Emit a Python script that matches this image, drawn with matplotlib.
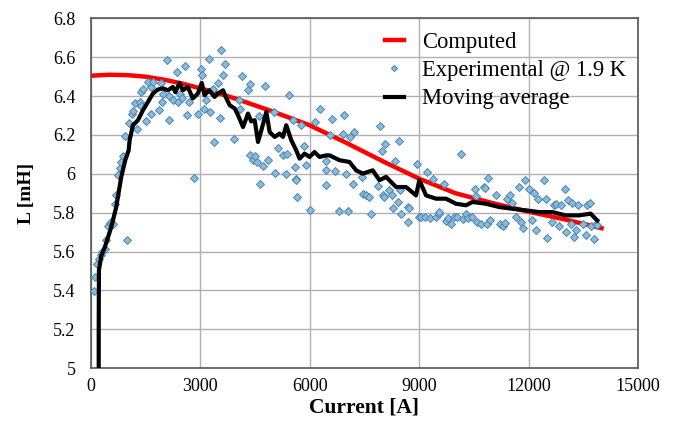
import numpy as np
import matplotlib
matplotlib.use("Agg")
import matplotlib.pyplot as plt
from matplotlib.ticker import FuncFormatter

plt.rcParams['font.family'] = ['Liberation Serif', 'DejaVu Serif']

# computed inductance curve
comp_current = [0, 500, 1000, 1500, 2000, 2500, 3000, 3500, 4000, 5000, 6000,
                7000, 8000, 9000, 10000, 11000, 12000, 13000, 14000]
comp_L = [6.505, 6.51, 6.508, 6.5, 6.485, 6.465, 6.44, 6.415, 6.385, 6.32, 6.25,
          6.16, 6.065, 5.975, 5.9, 5.85, 5.805, 5.765, 5.72]

# experimental points @ 1.9 K
exp_current = [90, 126, 181, 219, 270, 320, 383, 427, 473, 520, 560, 600, 656, 692, 747,
               790, 820, 875, 946, 1001, 1039, 1130, 1166, 1203, 1275, 1340, 1385, 1431,
               1390, 1521, 1568, 1641, 1658, 1704, 1860, 1915, 1960, 1986, 2087, 2133,
               2150, 2250, 2352, 2380, 2450, 2500, 2579, 2643, 2700, 2825, 2935, 3009,
               3063, 3099, 3170, 3245, 3282, 3354, 3391, 3491, 3555, 3582, 3627, 3673,
               3919, 4065, 4083, 4157, 4311, 4357, 4376, 4450, 4500, 4550, 4613, 4630,
               4722, 4767, 4858, 5014, 5041, 5132, 5269, 5341, 5380, 5432, 5542, 5588,
               5615, 5633, 5651, 5770, 5834, 5907, 6017, 6134, 6289, 6435, 6440, 6454,
               6545, 6618, 6682, 6800, 6928, 6955, 7001, 7056, 7111, 7183, 7228, 7439,
               7456, 7549, 7620, 7685, 7866, 7940, 7986, 8003, 8049, 8077, 8168, 8250,
               8277, 8350, 8414, 8460, 8470, 8505, 8687, 8706, 8733, 8943, 9007, 9060,
               9170, 9206, 9300, 9370, 9460, 9535, 9554, 9690, 9737, 9781, 9873, 9964,
               10050, 10146, 10192, 10283, 10350, 10450, 10538, 10557, 10600, 10700,
               10784, 10811, 10875, 10850, 10950, 11104, 11213, 11300, 11350, 11400,
               11500, 11550, 11650, 11742, 11800, 11853, 11906, 12000, 12100, 12140,
               12215, 12270, 12425, 12480, 12517, 12652, 12700, 12745, 12835, 12880,
               12999, 13035, 13090, 13155, 13200, 13246, 13292, 13350, 13500, 13565,
               13600, 13680, 13700, 13793, 13850, 13884]
exp_L = [5.396, 5.468, 5.537, 5.559, 5.58, 5.595, 5.614, 5.661, 5.729, 5.745, 5.75, 5.74,
         5.846, 5.893, 5.992, 6.03, 6.06, 6.09, 6.193, 5.657, 6.262, 6.31, 6.321, 6.362,
         6.233, 6.369, 6.422, 6.439, 6.35, 6.271, 6.473, 6.447, 6.307, 6.473, 6.327,
         6.468, 6.37, 6.413, 6.585, 6.276, 6.4, 6.38, 6.525, 6.37, 6.41, 6.39, 6.554,
         6.302, 6.37, 5.98, 6.307, 6.537, 6.51, 6.336, 6.38, 6.589, 6.319, 6.439, 6.164,
         6.465, 6.285, 6.637, 6.508, 6.564, 6.181, 6.379, 6.336, 6.503, 6.43, 6.095,
         6.46, 6.07, 6.09, 6.06, 6.296, 5.946, 6.039, 6.451, 6.073, 6.319, 6.004, 6.135,
         6.095, 6.001, 6.1, 6.405, 6.276, 6.035, 5.975, 5.967, 5.88, 6.25, 6.142, 6.044,
         5.815, 6.267, 6.336, 6.066, 5.943, 6.022, 6.198, 6.28, 6.015, 5.808, 6.204,
         6.302, 5.997, 5.808, 6.187, 5.95, 6.216, 5.984, 5.898, 5.889, 5.88, 5.795,
         5.936, 6.245, 6.118, 5.889, 5.88, 6.156, 5.915, 5.89, 5.826, 6.066, 5.855,
         6.169, 5.915, 5.791, 5.829, 5.752, 5.826, 6.049, 5.777, 5.78, 5.777, 6.009,
         5.77, 5.975, 5.777, 5.795, 5.803, 5.95, 5.755, 5.774, 5.743, 5.777, 5.78, 6.1,
         5.769, 5.795, 5.77, 5.78, 5.924, 5.885, 5.75, 5.74, 5.932, 5.929, 5.98, 5.74,
         5.76, 5.889, 5.743, 5.73, 5.745, 5.87, 5.89, 5.85, 5.78, 5.932, 5.75, 5.723,
         5.967, 5.92, 5.76, 5.9, 5.709, 5.869, 5.967, 5.87, 5.671, 5.752, 5.84, 5.843,
         5.73, 5.84, 5.92, 5.7, 5.863, 5.743, 5.85, 5.674, 5.709, 5.84, 5.74, 5.683,
         5.84, 5.85, 5.73, 5.666, 5.74, 5.735]

# moving average of the measurements
avg_current = [219, 219, 225, 290, 383, 563, 700, 837, 946, 1039, 1066, 1157, 1294, 1431,
               1568, 1704, 1841, 1978, 2115, 2251, 2320, 2433, 2525, 2661, 2798, 2935,
               3044, 3118, 3250, 3391, 3491, 3627, 3719, 3810, 3947, 4037, 4174, 4311,
               4400, 4494, 4585, 4676, 4813, 4904, 5041, 5177, 5268, 5360, 5497, 5633,
               5724, 5861, 5998, 6134, 6271, 6454, 6545, 6818, 7092, 7274, 7456, 7730,
               7913, 8095, 8369, 8642, 8916, 9007, 9190, 9463, 9737, 10010, 10283, 10465,
               10830, 11195, 11559, 11924, 12288, 12653, 13018, 13382, 13702, 13793, 13884]
avg_L = [5.0, 5.2, 5.503, 5.58, 5.62, 5.726, 5.83, 5.984, 6.07, 6.12, 6.173, 6.25, 6.276,
         6.327, 6.37, 6.413, 6.434, 6.44, 6.43, 6.447, 6.42, 6.468, 6.43, 6.447, 6.388,
         6.413, 6.468, 6.405, 6.43, 6.396, 6.413, 6.43, 6.388, 6.353, 6.336, 6.302, 6.241,
         6.31, 6.27, 6.276, 6.164, 6.224, 6.319, 6.215, 6.19, 6.207, 6.19, 6.25, 6.173,
         6.121, 6.078, 6.104, 6.087, 6.112, 6.087, 6.095, 6.095, 6.07, 6.061, 6.018, 6.001,
         6.018, 5.967, 5.984, 5.932, 5.932, 5.889, 5.967, 5.889, 5.872, 5.872, 5.846,
         5.838, 5.855, 5.846, 5.829, 5.82, 5.812, 5.803, 5.803, 5.786, 5.786, 5.795,
         5.777, 5.76]

fig = plt.figure(figsize=(6.74, 4.28), dpi=100)
ax = fig.add_axes([0.1346, 0.140, 0.812, 0.817])

ax.plot(comp_current, comp_L, color='red', lw=3.2, label='Computed', zorder=2)
ax.plot(exp_current, exp_L, ls='none', marker='D', ms=4.5, mfc='#8cbad8', mec='#4a86b0',
        mew=0.7, label='Experimental @ 1.9 K', zorder=3)
ax.plot(avg_current, avg_L, color='black', lw=3, label='Moving average', zorder=4)

ax.set_xlim(0, 15000)
ax.set_ylim(5, 6.8)
ax.set_xticks(np.arange(0, 15001, 3000))
ax.set_yticks(np.arange(5, 6.81, 0.2))
ax.yaxis.set_major_formatter(FuncFormatter(lambda v, p: ('%.1f' % v).rstrip('0').rstrip('.')))
ax.tick_params(length=0, labelsize=13)
ax.tick_params(axis='y', pad=11)
ax.tick_params(axis='x', pad=7)
ax.grid(True, color='#b0b0b0', lw=1)
ax.set_axisbelow(True)
for s in ax.spines.values():
    s.set_color('#555555')
    s.set_linewidth(1.2)

ax.set_xlabel('Current [A]', fontsize=15.5, fontweight='bold', labelpad=2)
ax.set_ylabel('L [mH]', fontsize=14, fontweight='bold', labelpad=13)

leg = ax.legend(loc='upper right', frameon=False, fontsize=16.3, handlelength=0.85,
                handletextpad=0.8, labelspacing=0.32, borderaxespad=0.2,
                bbox_to_anchor=(1.003, 1.0), markerscale=0.7)

fig.savefig('out.png', dpi=100)
